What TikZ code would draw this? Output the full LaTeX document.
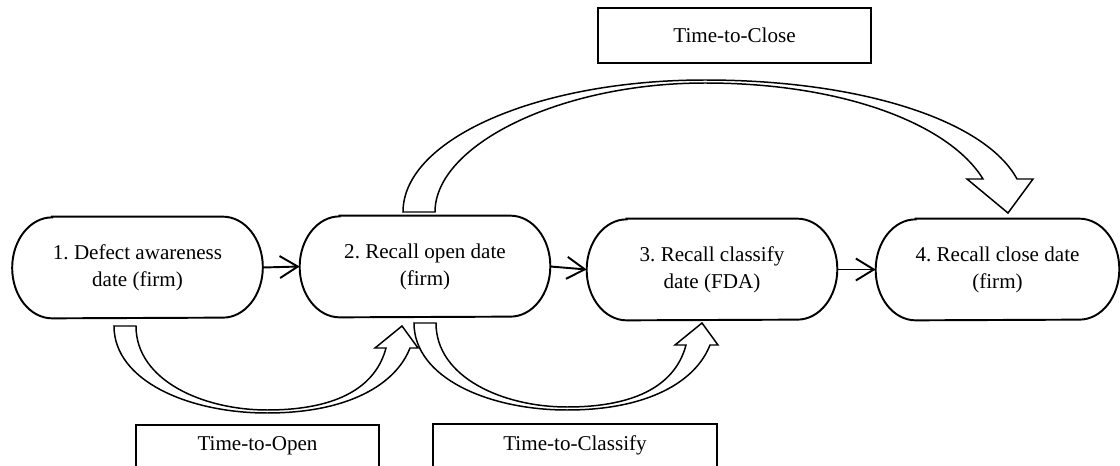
\documentclass[tikz,border=0pt]{standalone}
\usepackage{fontspec}
\setmainfont{Liberation Serif}
\usetikzlibrary{arrows.meta}
\frenchspacing
\tikzset{
  datebox/.style  = {rectangle, minimum width=5cm, minimum height=2.02cm,
                     align=center, font=\fontsize{12}{15.4}\selectfont},
  dateline/.style = {line width=1.1pt},
  timetag/.style  = {rectangle, draw, line width=1.1pt, minimum height=1.1cm,
                     font=\fontsize{12}{14}\selectfont},
  cuttag/.style   = {timetag, anchor=north, inner ysep=6.5pt, text depth=1.5cm},
  arr/.style      = {-{Straight Barb[length=3.6mm,width=4.4mm]}, line width=1.1pt},
  blockarrow/.style = {draw, fill=white, line width=0.85pt, line join=miter},
  uparrow/.pic = {
    \draw[blockarrow] (0,0) -- (22,0)
      .. controls (22,55) and (90,84) .. (153,84)
      .. controls (225,84) and (262,60) .. (272,22)
      -- (261,22) -- (288,0) -- (304,22) -- (296,22)
      .. controls (282,58) and (235,87) .. (153,87)
      .. controls (75,87) and (0,55) .. (0,0) -- cycle;
  }
}

\begin{document}
\begin{tikzpicture}[x=0.02cm, y=-0.02cm]
  \useasboundingbox (0,0) rectangle (1120,466);

  % the four dates
  \node[datebox] (defect)   at (137.5,267.5) {1. Defect awareness\\date (firm)};
  \node[datebox] (open)     at (425,266.5)   {2. Recall open date\\(firm)};
  \node[datebox] (classify) at (712,269.5)   {3. Recall classify\\date (FDA)};
  \node[datebox, minimum width=4.86cm] (close) at (997.5,269.5) {4. Recall close date\\(firm)};

  \foreach \n in {defect,open,classify,close}
    \draw[dateline] ([xshift=0.8cm]\n.north west) -- ([xshift=-0.8cm]\n.north east)
      arc[start angle=90, end angle=-90, x radius=0.8cm, y radius=1.01cm]
      -- ([xshift=0.8cm]\n.south west)
      arc[start angle=270, end angle=90, x radius=0.8cm, y radius=1.01cm] -- cycle;

  \draw[arr] (defect.east)   -- (open.west);
  \draw[arr] (open.east)     -- (classify.west);
  \draw[arr] (classify.east) -- (close.west);

  % curved block arrows
  \pic (toopen)     at (114,326) {uparrow};
  \pic (toclassify) at (414,323) {uparrow};
  \draw[blockarrow] (403,212)
    .. controls (403,139) and (538,80) .. (705,80)
    .. controls (860,80) and (985,120) .. (1017,179)
    -- (1033,179) -- (1008,213) -- (967,179) -- (983,179)
    .. controls (950,125) and (845,83) .. (705,83)
    .. controls (560,83) and (435,145) .. (435,212) -- cycle;

  % time labels
  \node[timetag, minimum width=5.46cm] (ttclose) at (734.5,35.5) {Time-to-Close};
  \node[cuttag, minimum width=4.86cm] (ttopen) at (257.5,424) {Time-to-Open};
  \node[cuttag, minimum width=5.68cm] (ttclassify) at (575,423) {Time-to-Classify};
\end{tikzpicture}
\end{document}
